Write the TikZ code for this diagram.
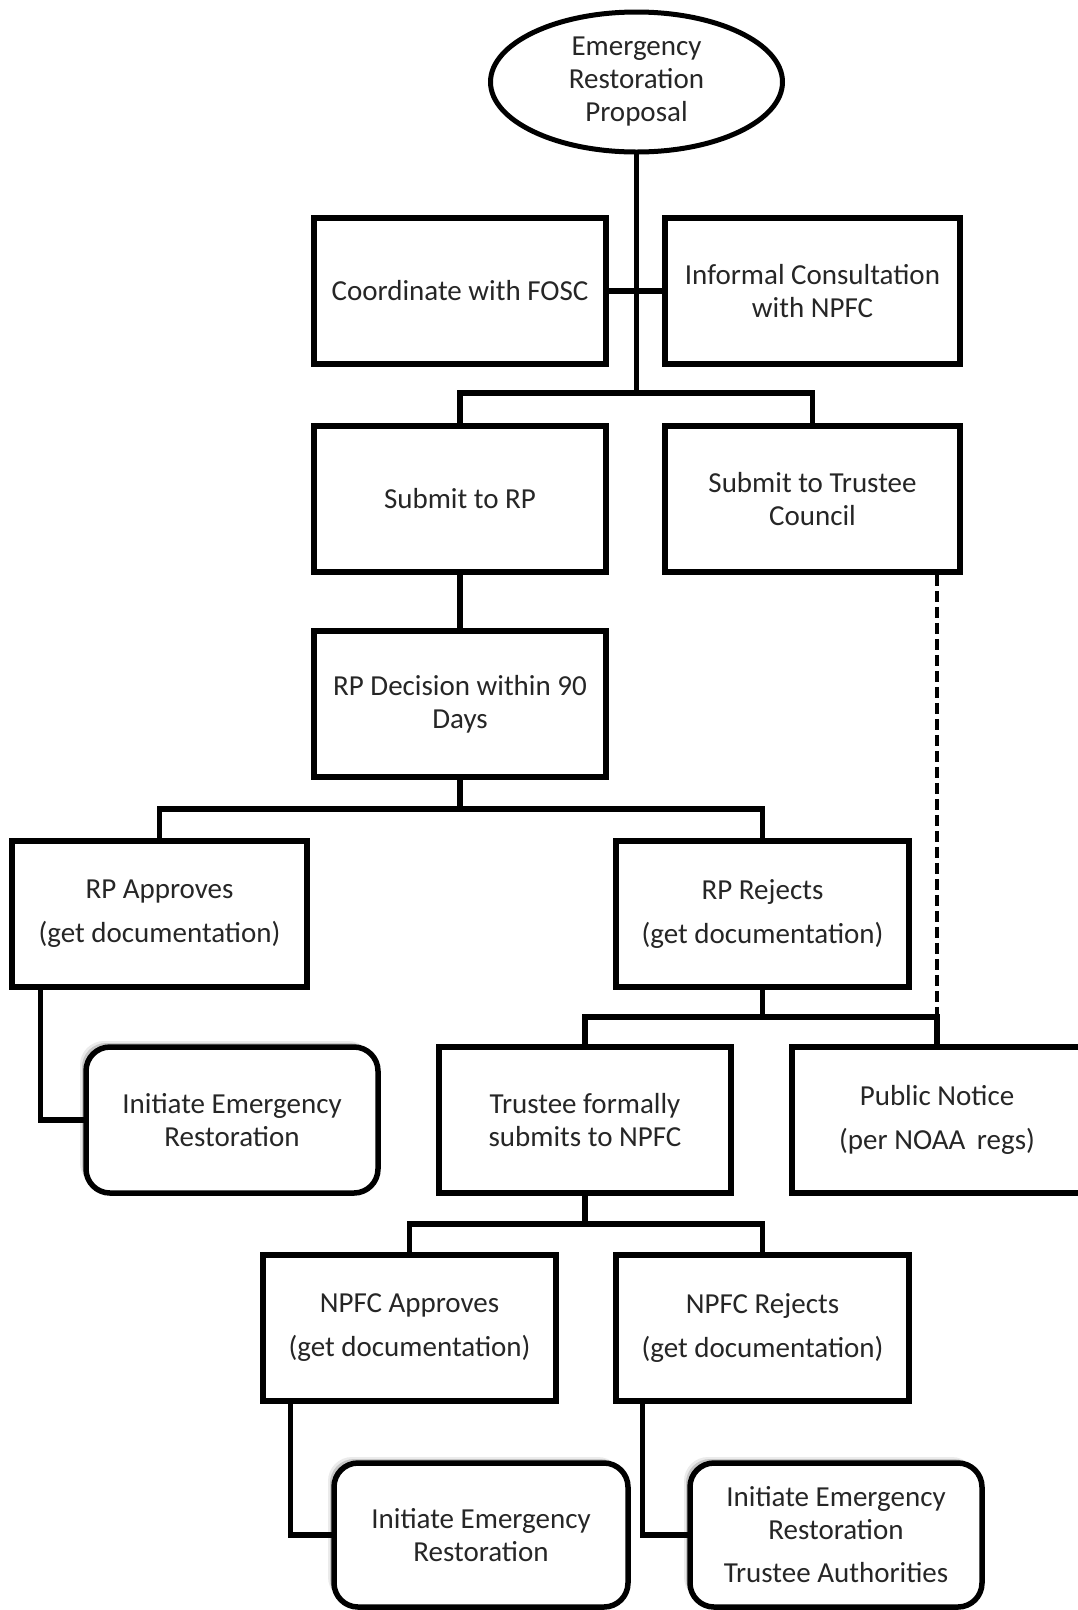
\documentclass[tikz,border=0pt]{standalone}
\usepackage{fontspec}
\setmainfont{Carlito}
\usetikzlibrary{shapes.geometric,shadows}
\begin{document}
\begin{tikzpicture}[x=1pt,y=-1pt,
  every node/.style={text=black!85,font=\fontsize{29}{33}\selectfont,align=center,inner sep=0pt},
  box/.style={draw=black,line width=5.5pt,fill=white,minimum width=292pt,minimum height=146pt},
  endbox/.style={box,rounded corners=24pt,
    general shadow={shadow xshift=-2pt,shadow yshift=2pt,fill=black,opacity=.25},
    general shadow={shadow xshift=-4pt,shadow yshift=4pt,fill=black,opacity=.15},
    general shadow={shadow xshift=-6pt,shadow yshift=6pt,fill=black,opacity=.08}},
  oval/.style={draw=black,line width=5pt,fill=white,ellipse,minimum width=292pt,minimum height=140pt},
  conn/.style={draw=black,line width=5.5pt,line cap=rect},
  dashconn/.style={draw=black,line width=4.5pt,dash pattern=on 11pt off 5pt}
]
\useasboundingbox (0,0) rectangle (1078,1610);
\clip (0,0) rectangle (1078,1610);
\fill[white] (0,0) rectangle (1078,1610);

\node[oval] (prop) at (636.5,82) {Emergency\\Restoration\\Proposal};
\node[box] (fosc) at (460,291) {Coordinate with FOSC};
\node[box,minimum width=295pt] (inf) at (812.5,291) {Informal Consultation\\with NPFC};
\node[box] (srp) at (460,499) {Submit to RP};
\node[box,minimum width=295pt] (stc) at (812.5,499) {Submit to Trustee\\Council};
\node[box] (dec) at (460,704) {RP Decision within 90\\Days};
\node[box,minimum width=295pt] (rpa) at (159.5,914) {RP Approves\\[11pt](get documentation)};
\node[box,minimum width=293pt] (rpr) at (762.5,914) {RP Rejects\\[11pt](get documentation)};
\node[endbox] (ini1) at (232,1120) {Initiate Emergency\\Restoration};
\node[box] (tfs) at (585,1120) {Trustee formally\\submits to NPFC};
\node[box,minimum width=290pt] (pn) at (937,1120) {Public Notice\\[11pt](per NOAA\, regs)};
\node[box,minimum width=293pt] (npa) at (409.5,1328) {NPFC Approves\\[11pt](get documentation)};
\node[box,minimum width=293pt] (npr) at (762.5,1328) {NPFC Rejects\\[11pt](get documentation)};
\node[endbox,minimum width=294pt,minimum height=144pt] (ini2) at (481,1535) {Initiate Emergency\\Restoration};
\node[endbox,minimum height=144pt] (ini3) at (836,1535) {Initiate Emergency\\Restoration\\[10pt]Trustee Authorities};

\coordinate (b1) at (636.5,393);
\coordinate (b2) at (460,809);
\coordinate (b3) at (762.5,1017);
\coordinate (b4) at (585,1224);

\draw[conn] (prop.south) -- (b1);
\draw[conn] (fosc.east) -- (inf.west);
\draw[conn] (srp.north) |- (b1) -| (stc.north);
\draw[conn] (srp.south) -- (dec.north);
\draw[conn] (dec.south) -- (b2);
\draw[conn] (rpa.north) |- (b2) -| (rpr.north);
\draw[conn] ([xshift=31pt]rpa.south west) |- (ini1.west);
\draw[conn] (rpr.south) -- (b3);
\draw[conn] (tfs.north) |- (b3) -| (pn.north);
\draw[dashconn] (stc.south -| pn.north) -- (pn.north |- b3);
\draw[conn] (tfs.south) -- (b4);
\draw[conn] (npa.north) |- (b4) -| (npr.north);
\draw[conn] ([xshift=30pt]npa.south west) |- (ini2.west);
\draw[conn] ([xshift=29pt]npr.south west) |- (ini3.west);
\end{tikzpicture}
\end{document}
